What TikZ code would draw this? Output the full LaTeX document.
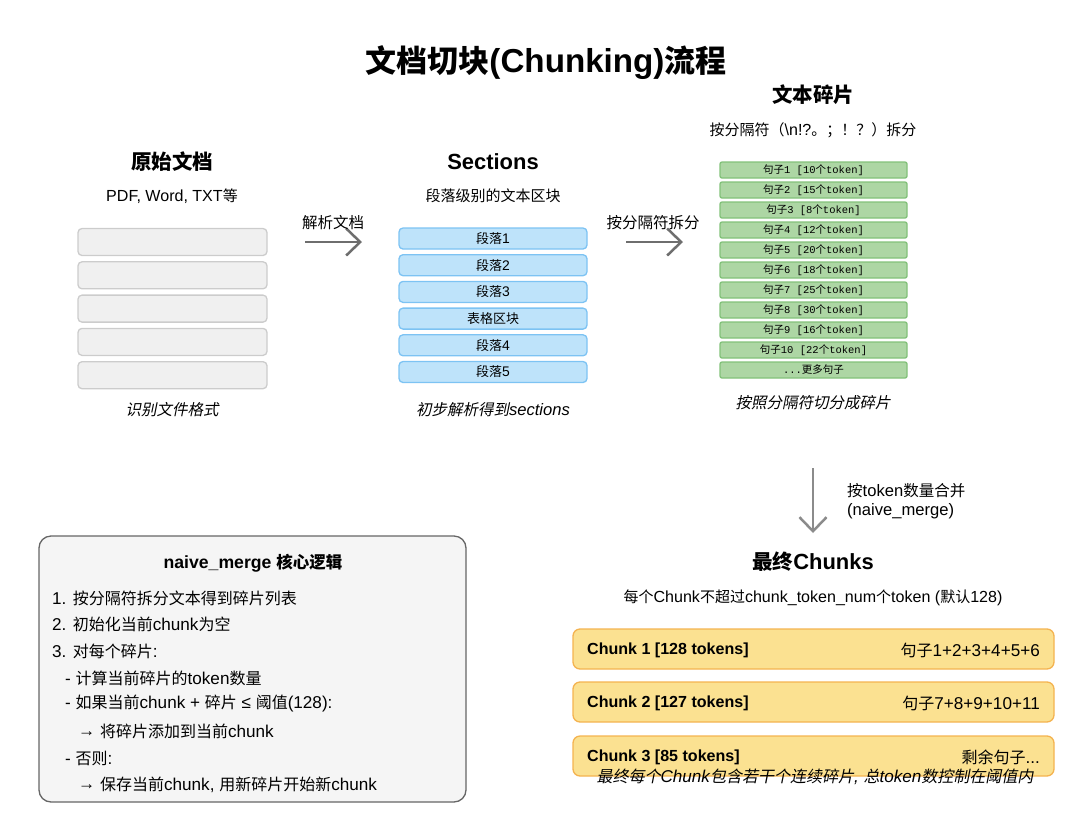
\documentclass[tikz,border=0pt]{standalone}
\usepackage{fontspec}
\setmainfont{Liberation Sans}[Scale=1.07]
\setmonofont{Liberation Mono}
\newfontfamily\cjkfont{Noto Sans CJK SC}[AutoFakeSlant=0.2]
\usepackage{tikz}
\usetikzlibrary{arrows.meta,positioning}

% switch to the CJK family for Han characters and full-width punctuation
\XeTeXinterchartokenstate=1
\newXeTeXintercharclass\cjkclass
\makeatletter
\count@="3000
\loop\XeTeXcharclass\count@=\cjkclass\relax\ifnum\count@<"303F \advance\count@\@ne\repeat
\count@="4E00
\loop\XeTeXcharclass\count@=\cjkclass\relax\ifnum\count@<"9FFF \advance\count@\@ne\repeat
\count@="FF00
\loop\XeTeXcharclass\count@=\cjkclass\relax\ifnum\count@<"FFEF \advance\count@\@ne\repeat
\makeatother
\XeTeXinterchartoks 0 \cjkclass={\begingroup\cjkfont}
\XeTeXinterchartoks 4095 \cjkclass={\begingroup\cjkfont}
\XeTeXinterchartoks \cjkclass 0={\endgroup}
\XeTeXinterchartoks \cjkclass 4095={\endgroup}

\definecolor{rawfill}{HTML}{F0F0F0}
\definecolor{rawline}{HTML}{CCCCCC}
\definecolor{secfill}{HTML}{BEE3FA}
\definecolor{secline}{HTML}{7DC3F3}
\definecolor{fragfill}{HTML}{ADD6A4}
\definecolor{fragline}{HTML}{82C17A}
\definecolor{chunkfill}{HTML}{FBE191}
\definecolor{chunkline}{HTML}{F4B350}
\definecolor{logicfill}{HTML}{F5F5F5}
\definecolor{logicline}{HTML}{666666}
\definecolor{arrowgray}{HTML}{6E6E6E}

\begin{document}
\begin{tikzpicture}[
  x=1pt, y=-1pt,
  font=\fontsize{15}{18}\selectfont,
  ttl/.style={font=\fontsize{20.5}{24}\selectfont\bfseries},
  sub/.style={font=\fontsize{15}{18}\selectfont},
  lbl/.style={font=\fontsize{15.5}{19}\selectfont},
  capt/.style={font=\fontsize{15.5}{18}\selectfont\itshape},
  rawbox/.style={draw=rawline, fill=rawfill, rounded corners=4pt, line width=1.3pt,
                 minimum width=189pt, minimum height=27pt},
  secbox/.style={draw=secline, fill=secfill, rounded corners=4pt, line width=1.3pt,
                 minimum width=188pt, minimum height=21pt, inner sep=0pt,
                 font=\fontsize{13}{15}\selectfont},
  fragbox/.style={draw=fragline, fill=fragfill, rounded corners=2pt, line width=1.3pt,
                  minimum width=187pt, minimum height=16pt, inner sep=0pt,
                  font=\fontsize{10.5}{12}\selectfont\ttfamily},
  chunkbox/.style={draw=chunkline, fill=chunkfill, rounded corners=7pt,
                   line width=1.3pt, minimum width=481pt, minimum height=40pt},
  txtline/.style={anchor=west, inner xsep=0pt, font=\fontsize{16}{19}\selectfont},
  ar/.style={line width=2.5pt, draw=arrowgray,
             -{Straight Barb[length=14pt,width=27pt]}}]

\useasboundingbox (0,0) rectangle (1072,831);

\node[font=\fontsize{31}{36}\selectfont\bfseries] (title) at (546,63)
  {文档切块(Chunking)流程};

% raw document
\node[ttl] (rawttl) at (172,162) {原始文档};
\node[sub] (rawsub) at (172,196) {PDF, Word, TXT等};
\foreach \i in {0,...,4}
  \node[rawbox] (raw\i) at (172.5,242+33.3*\i) {};
\node[capt] (rawcap) at (172,410) {识别文件格式};

% sections
\node[ttl] (secttl) at (493,162) {Sections};
\node[sub] (secsub) at (493,196) {段落级别的文本区块};
\foreach \t [count=\i from 0] in {段落1,段落2,段落3,表格区块,段落4,段落5}
  \node[secbox] (sec\i) at (493,238.5+26.7*\i) {\t};
\node[capt] (seccap) at (493,410) {初步解析得到sections};

% fragments
\node[ttl] (fragttl) at (813,95) {文本碎片};
\node[sub] (fragsub) at (813,130) {按分隔符（\textbackslash n!?。；！？）拆分};
\foreach \t [count=\i from 0] in {句子1 [10个token],句子2 [15个token],
    句子3 [8个token],句子4 [12个token],句子5 [20个token],句子6 [18个token],
    句子7 [25个token],句子8 [30个token],句子9 [16个token],
    句子10 [22个token]}
  \node[fragbox] (frag\i) at (813.5,170+20*\i) {\t};
\node[fragbox] (frag10) at (813.5,370) {...更多句子};
\node[capt] (fragcap) at (813,403) {按照分隔符切分成碎片};

% arrows between stages
\coordinate (p1s) at (305,242);
\coordinate (p1e) at (362,242);
\coordinate (p2s) at (626,242);
\coordinate (p2e) at (683,242);
\coordinate (p3s) at (813,468);
\coordinate (p3e) at (813,533);
\draw[ar] (p1s) -- (p1e);
\draw[ar] (p2s) -- (p2e);
\draw[ar, draw=arrowgray!80] (p3s) -- (p3e);
\node[lbl] (p1lbl) at (333,223) {解析文档};
\node[lbl] (p2lbl) at (653,223) {按分隔符拆分};
\node[lbl, anchor=west, align=left, inner xsep=0pt] (p3lbl) at (847,501)
  {按token数量合并\\(naive\_merge)};

% final chunks
\node[ttl] (chunkttl) at (813,562) {最终Chunks};
\node[sub] (chunksub) at (813,598)
  {每个Chunk不超过chunk\_token\_num个token (默认128)};
\node[chunkbox] (chunk1) at (813.5,649) {};
\node[chunkbox] (chunk2) at (813.5,702) {};
\node[chunkbox] (chunk3) at (813.5,756) {};
\node[txtline, font=\fontsize{15}{18}\selectfont\bfseries] (c1l) at (587,650) {Chunk 1 [128 tokens]};
\node[txtline, font=\fontsize{15}{18}\selectfont\bfseries] (c2l) at (587,703) {Chunk 2 [127 tokens]};
\node[txtline, font=\fontsize{15}{18}\selectfont\bfseries] (c3l) at (587,757) {Chunk 3 [85 tokens]};
\node[txtline, anchor=east] (c1r) at (1040,650) {句子1+2+3+4+5+6};
\node[txtline, anchor=east] (c2r) at (1040,703) {句子7+8+9+10+11};
\node[txtline, anchor=east] (c3r) at (1040,757) {剩余句子...};
\node[capt, font=\fontsize{16}{19}\selectfont\itshape] (chunkcap) at (815,777)
  {最终每个Chunk包含若干个连续碎片, 总token数控制在阈值内};

% merge logic
\node[draw=logicline, fill=logicfill, line width=1.3pt, rounded corners=12pt,
      minimum width=427pt, minimum height=266pt] (logic) at (252.5,669) {};
\node[font=\fontsize{16.5}{19}\selectfont\bfseries] (logicttl) at (253,563)
  {naive\_merge 核心逻辑};
\node[txtline] (l1) at (52,598) {1. 按分隔符拆分文本得到碎片列表};
\node[txtline] (l2) at (52,624) {2. 初始化当前chunk为空};
\node[txtline] (l3) at (52,651) {3. 对每个碎片:};
\node[txtline] (l4) at (65,678) {- 计算当前碎片的token数量};
\node[txtline] (l5) at (65,704) {- 如果当前chunk + 碎片 ≤ 阈值(128):};
\node[txtline] (l6) at (78,731) {\raisebox{1pt}{→} 将碎片添加到当前chunk};
\node[txtline] (l7) at (65,758) {- 否则:};
\node[txtline] (l8) at (78,785) {\raisebox{1pt}{→} 保存当前chunk, 用新碎片开始新chunk};
\end{tikzpicture}
\end{document}
